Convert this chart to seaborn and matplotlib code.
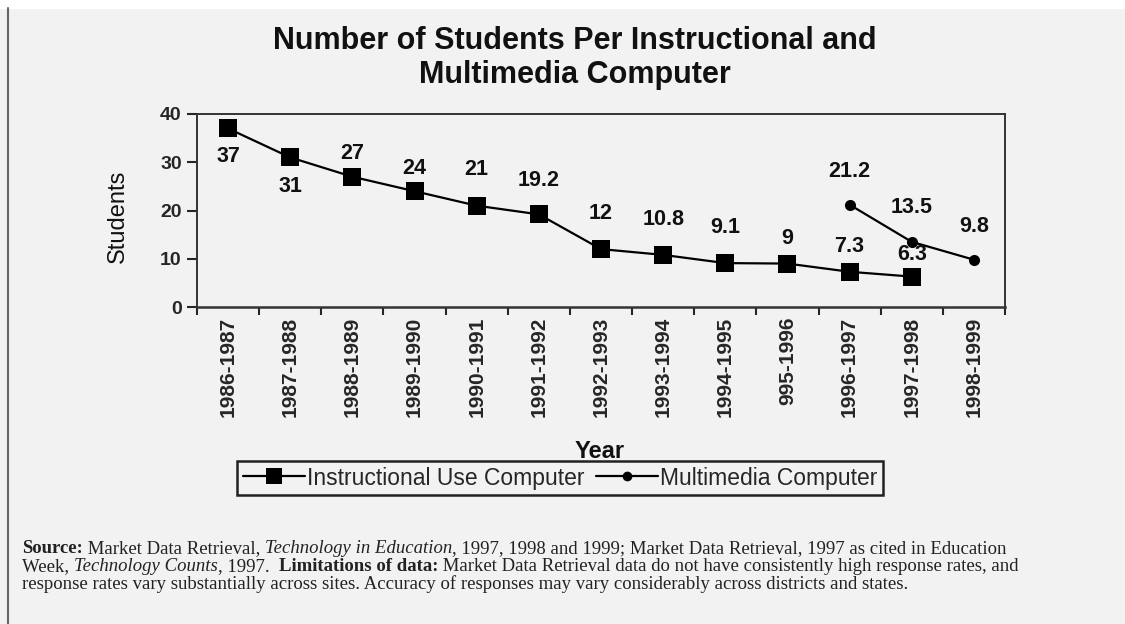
import matplotlib
matplotlib.use("Agg")
import matplotlib.pyplot as plt
import seaborn as sns
from matplotlib.lines import Line2D

# data
years = ["1986-1987", "1987-1988", "1988-1989", "1989-1990", "1990-1991",
         "1991-1992", "1992-1993", "1993-1994", "1994-1995", "995-1996",
         "1996-1997", "1997-1998", "1998-1999"]
instr_years = years[:12]
instr_values = [37, 31, 27, 24, 21, 19.2, 12, 10.8, 9.1, 9, 7.3, 6.3]
mm_years = ["1996-1997", "1997-1998", "1998-1999"]
mm_values = [21.2, 13.5, 9.8]
y_ticks = [0, 10, 20, 30, 40]

# label offsets in pixels (positive = below the point)
instr_dy = [28, 29, -23, -23, -36, -34, -36, -35, -36, -25, -25, -22]
mm_dy = [-33, -34, -33]

sns.set_style("white")
plt.rcParams["font.family"] = ["Liberation Sans", "DejaVu Sans"]

bg = "#f2f2f2"
fig = plt.figure(figsize=(11.25, 6.24), dpi=100, facecolor=bg)
W, H = 1125, 624
ax = fig.add_axes([197 / W, 1 - 307 / H, (1005 - 197) / W, (307 - 114) / H])
ax.set_facecolor(bg)

xi = [years.index(y) for y in instr_years]
xm = [years.index(y) for y in mm_years]

sns.lineplot(x=xi, y=instr_values, ax=ax, color="black", lw=1.6,
             marker="s", markersize=13, markeredgewidth=0, legend=False)
sns.lineplot(x=xm, y=mm_values, ax=ax, color="black", lw=1.6,
             marker="o", markersize=8, markeredgewidth=0, legend=False)

for x, v, d in zip(xi, instr_values, instr_dy):
    ax.annotate(f"{v:g}", (x, v), xytext=(0, -d * 0.72), textcoords="offset points",
                ha="center", va="center", fontsize=15.5, fontweight="bold", color="#111")
for x, v, d in zip(xm, mm_values, mm_dy):
    ax.annotate(f"{v:g}", (x, v), xytext=(0, -d * 0.72), textcoords="offset points",
                ha="center", va="center", fontsize=15.5, fontweight="bold", color="#111")

ax.set_xlim(-0.5, len(years) - 0.5)
ax.set_ylim(0, 40)
ax.set_yticks(y_ticks)
ax.set_yticklabels([str(t) for t in y_ticks], fontsize=14, fontweight="bold")
ax.set_xticks(range(len(years)))
ax.set_xticklabels(years, rotation=90, fontsize=15, fontweight="bold")
ax.set_xticks([i - 0.5 for i in range(len(years) + 1)], minor=True)
ax.tick_params(axis="x", which="major", length=0, pad=7)
ax.tick_params(axis="x", which="minor", length=6, width=1.5, direction="out", bottom=True)
ax.tick_params(axis="y", length=7, width=1.5, direction="out", left=True, pad=4)
for s in ax.spines.values():
    s.set_color("#333")
    s.set_linewidth(1.4)
ax.spines["bottom"].set_linewidth(1.8)

fig.text(575 / W, 1 - 58 / H, "Number of Students Per Instructional and\nMultimedia Computer",
         ha="center", va="center", fontsize=22, fontweight="bold", linespacing=1.2, color="#111")
fig.text(118 / W, 1 - 216 / H, "Students", rotation=90, ha="center", va="center",
         fontsize=17, color="#111")
fig.text(600 / W, 1 - 451 / H, "Year", ha="center", va="center",
         fontsize=17, fontweight="bold", color="#111")

handles = [Line2D([], [], color="black", lw=1.6, marker="s", markersize=11, markeredgewidth=0),
           Line2D([], [], color="black", lw=1.6, marker="o", markersize=7, markeredgewidth=0)]
leg = fig.legend(handles, ["Instructional Use Computer", "Multimedia Computer"],
                 loc="center", bbox_to_anchor=(560 / W, 1 - 478 / H), ncol=2,
                 fontsize=16.5, frameon=True, fancybox=False, edgecolor="#222",
                 handlelength=2.7, handletextpad=0.1, columnspacing=0.5,
                 borderpad=0.25, facecolor=bg, framealpha=1)
leg.get_frame().set_linewidth(1.8)

# footnote, built from pieces of different weights/styles
serif = ["Liberation Serif", "DejaVu Serif"]
foot_lines = [
    [("Source:", "bold", "normal"), (" Market Data Retrieval, ", "normal", "normal"),
     ("Technology in Education", "normal", "italic"),
     (", 1997, 1998 and 1999; Market Data Retrieval, 1997 as cited in Education", "normal", "normal")],
    [("Week, ", "normal", "normal"), ("Technology Counts", "normal", "italic"),
     (", 1997.  ", "normal", "normal"), ("Limitations of data:", "bold", "normal"),
     (" Market Data Retrieval data do not have consistently high response rates, and", "normal", "normal")],
    [("response rates vary substantially across sites. Accuracy of responses may vary "
      "considerably across districts and states.", "normal", "normal")],
]
foot_y = [553, 571, 589]
r = fig.canvas.get_renderer()
for line, y in zip(foot_lines, foot_y):
    xpix = 22
    for txt, wt, st in line:
        t = fig.text(xpix / W, 1 - y / H, txt, ha="left", va="baseline", fontsize=13.5,
                     fontweight=wt, fontstyle=st, family=serif, color="#222")
        xpix = t.get_window_extent(r).x1

# page edge artifacts of the scan
fig.add_artist(plt.Rectangle((0, 1 - 8 / H), 1, 8 / H, transform=fig.transFigure,
                             color="white", zorder=0))
fig.add_artist(Line2D([8 / W, 8 / W], [0, 1 - 8 / H], transform=fig.transFigure,
                      color="#666", lw=1.5))

fig.savefig("out.png", dpi=100, facecolor=bg)
